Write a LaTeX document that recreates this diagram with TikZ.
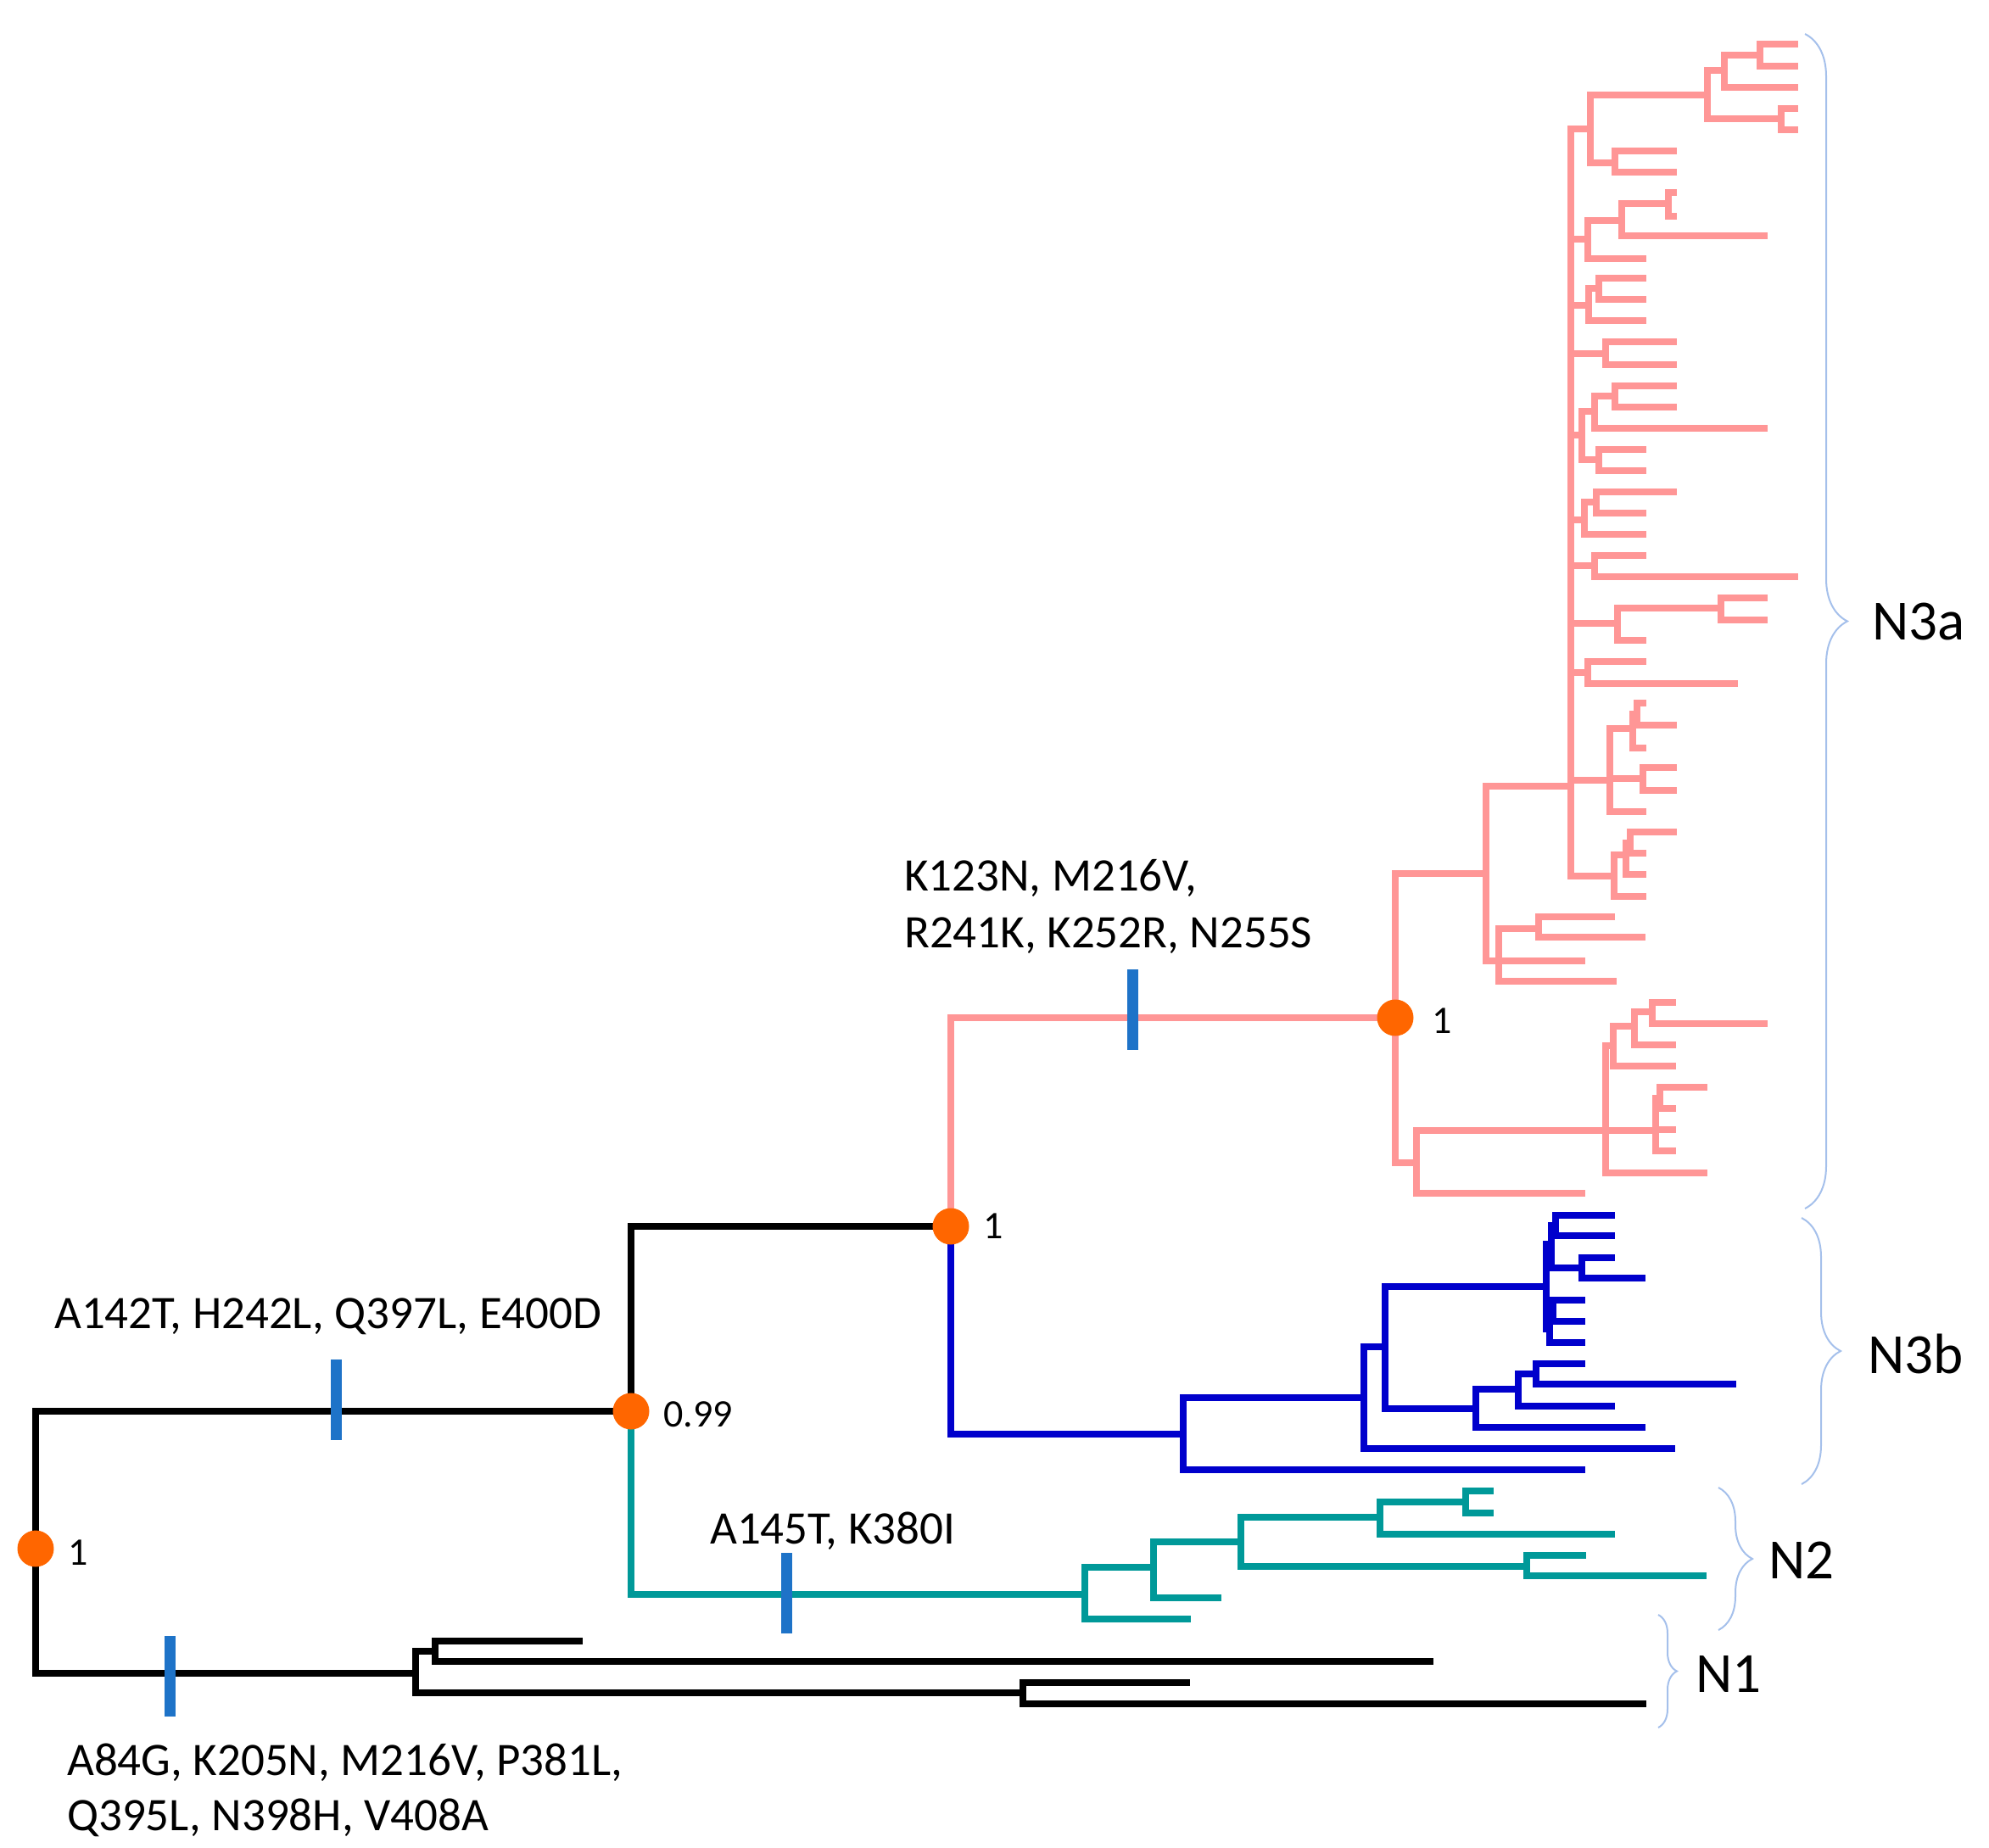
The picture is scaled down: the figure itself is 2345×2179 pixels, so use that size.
\documentclass[tikz,border=0pt]{standalone}
\usepackage{fontspec}
\setmainfont{Carlito}
\usetikzlibrary{decorations.pathreplacing}
\definecolor{pinkc}{RGB}{255,150,150}
\definecolor{bluec}{RGB}{0,0,204}
\definecolor{tealc}{RGB}{0,153,153}
\definecolor{barc}{RGB}{30,115,200}
\definecolor{dotc}{RGB}{255,102,0}
\definecolor{bracec}{RGB}{165,192,235}
\newcount\leafno
\newcommand\ed[4]{\draw (#1) |- (#3,#4) coordinate (#2);}
\newcommand\lf[3]{\global\advance\leafno by 1 \draw (#1) |- (#2,#3) coordinate (leaf\the\leafno);}
\begin{document}
\begin{tikzpicture}[x=1pt,y=-1pt,
  treeline/.style={line width=7.2pt,line cap=rect,line join=miter},
  dot/.style={circle,fill=dotc,minimum size=43pt,inner sep=0pt},
  mbar/.style={rectangle,fill=barc,minimum width=13pt,minimum height=95pt,inner sep=0pt},
  mut/.style={anchor=base west,inner sep=0pt,font=\fontsize{55}{66}\selectfont},
  sup/.style={anchor=base west,inner sep=0pt,font=\fontsize{46}{54}\selectfont},
  clade/.style={anchor=west,inner sep=0pt,font=\fontsize{67}{78}\selectfont},
  clbrace/.style={decorate,decoration={brace,amplitude=#1},draw=bracec,line width=2pt}]
\useasboundingbox (0,0) rectangle (2345,2179);
\coordinate (r) at (42,1826);
% ---- black backbone
\begin{scope}[treeline,black]
\ed{r}{n99}{744}{1664}
\ed{r}{nA}{490}{1973}
\ed{n99}{n3}{1121}{1446}
% N1
\ed{nA}{nB}{513}{1947}
\ed{nA}{nC}{1206}{1996}
\lf{nB}{683}{1935}
\lf{nB}{1686}{1959}
\lf{nC}{1399}{1984}
\lf{nC}{1937}{2009}
\end{scope}
% ---- N2 teal
\begin{scope}[treeline,tealc]
\ed{n99}{n2}{1279}{1880}
\ed{n2}{n2a}{1360}{1848}
\lf{n2}{1400}{1909}
\ed{n2a}{n2b}{1463}{1818}
\lf{n2a}{1436}{1884}
\ed{n2b}{n2c}{1627}{1789}
\ed{n2b}{n2d}{1800}{1847}
\ed{n2c}{n2e}{1728}{1771}
\lf{n2c}{1900}{1809}
\lf{n2e}{1757}{1758}
\lf{n2e}{1757}{1784}
\lf{n2d}{1866}{1834}
\lf{n2d}{2008}{1858}
\end{scope}
% ---- N3b blue
\begin{scope}[treeline,bluec]
\ed{n3}{n3b}{1395}{1691}
\ed{n3b}{b1}{1608}{1648}
\lf{n3b}{1865}{1733}
\ed{b1}{b2}{1633}{1588}
\lf{b1}{1971}{1708}
\ed{b2}{b3}{1823}{1517}
\ed{b2}{b4}{1740}{1661}
\ed{b3}{b5}{1829}{1467}
\ed{b3}{b8}{1827}{1567}
\ed{b5}{b6}{1834}{1445}
\ed{b5}{b7}{1865}{1495}
\lf{b6}{1900}{1433}
\lf{b6}{1900}{1457}
\lf{b7}{1900}{1483}
\lf{b7}{1936}{1507}
\ed{b8}{b9}{1831}{1545}
\lf{b8}{1865}{1583}
\lf{b9}{1865}{1533}
\lf{b9}{1865}{1558}
\ed{b4}{b10}{1790}{1638}
\lf{b4}{1936}{1683}
\ed{b10}{b11}{1811}{1620}
\lf{b10}{1900}{1658}
\lf{b11}{1865}{1608}
\lf{b11}{2043}{1632}
\end{scope}
% ---- N3a pink
\begin{scope}[treeline,pinkc]
\ed{n3}{n3a}{1645}{1200}
\ed{n3a}{U}{1752}{1030}
\ed{n3a}{P}{1670}{1371}
\ed{U}{W}{1852}{927}
\ed{U}{V}{1767}{1133}
\ed{V}{V1}{1814}{1095}
\lf{V}{1865}{1133}
\lf{V}{1902}{1157}
\lf{V1}{1900}{1081}
\lf{V1}{1936}{1105}
% spine
\ed{W}{A1}{1875}{152}
\ed{W}{w2}{1872}{282}
\ed{W}{w3}{1873}{360}
\ed{W}{w4}{1893}{417}
\ed{W}{w5}{1865}{513}
\ed{W}{w6}{1868}{613}
\ed{W}{w7}{1880}{667}
\ed{W}{w8}{1907}{735}
\ed{W}{w9}{1872}{793}
\ed{W}{w10}{1898}{920}
\ed{W}{w11}{1903}{1033}
% A1
\ed{A1}{T}{2013}{112}
\ed{A1}{a2}{1904}{192}
\ed{T}{T1}{2033}{83}
\ed{T}{T2}{2100}{140}
\ed{T1}{T3}{2075}{65}
\lf{T1}{2116}{103}
\lf{T3}{2116}{52}
\lf{T3}{2116}{78}
\lf{T2}{2116}{128}
\lf{T2}{2116}{153}
\lf{a2}{1973}{178}
\lf{a2}{1973}{203}
% w2
\ed{w2}{w2a}{1912}{260}
\lf{w2}{1937}{305}
\ed{w2a}{w2b}{1967}{240}
\lf{w2a}{2080}{278}
\lf{w2b}{1973}{227}
\lf{w2b}{1973}{255}
% w3
\ed{w3}{w3a}{1885}{340}
\lf{w3}{1937}{378}
\lf{w3a}{1937}{328}
\lf{w3a}{1937}{353}
% w4
\lf{w4}{1973}{403}
\lf{w4}{1973}{430}
% w5
\ed{w5}{w5a}{1880}{485}
\ed{w5}{w5b}{1885}{542}
\ed{w5a}{w5c}{1904}{467}
\lf{w5a}{2080}{505}
\lf{w5c}{1973}{455}
\lf{w5c}{1973}{480}
\lf{w5b}{1937}{530}
\lf{w5b}{1937}{555}
% w6
\ed{w6}{w6a}{1882}{592}
\lf{w6}{1937}{630}
\lf{w6a}{1973}{580}
\lf{w6a}{1937}{605}
% w7
\lf{w7}{1937}{655}
\lf{w7}{2116}{680}
% w8
\ed{w8}{w8a}{2029}{717}
\lf{w8}{1937}{755}
\lf{w8a}{2080}{705}
\lf{w8a}{2080}{731}
% w9
\lf{w9}{1937}{780}
\lf{w9}{2045}{806}
% w10
\ed{w10}{w10a}{1925}{859}
\ed{w10}{w10b}{1937}{918}
\lf{w10}{1937}{957}
\ed{w10a}{w10c}{1930}{842}
\lf{w10a}{1937}{882}
\lf{w10c}{1937}{829}
\lf{w10c}{1973}{855}
\lf{w10b}{1973}{905}
\lf{w10b}{1973}{932}
% w11
\ed{w11}{w11a}{1917}{1008}
\lf{w11}{1937}{1057}
\ed{w11a}{w11b}{1922}{994}
\lf{w11a}{1937}{1031}
\lf{w11b}{1973}{981}
\lf{w11b}{1937}{1006}
% P
\ed{P}{Q}{1893}{1333}
\lf{P}{1865}{1407}
\ed{Q}{Q1}{1902}{1233}
\ed{Q}{Q2}{1952}{1333}
\lf{Q}{2009}{1383}
\ed{Q1}{Q1a}{1927}{1210}
\lf{Q1}{1972}{1257}
\ed{Q1a}{Q1b}{1948}{1193}
\lf{Q1a}{1972}{1232}
\lf{Q1b}{1972}{1182}
\lf{Q1b}{2080}{1207}
\ed{Q2}{Q2a}{1957}{1295}
\lf{Q2}{1972}{1332}
\lf{Q2}{1972}{1357}
\lf{Q2a}{2009}{1282}
\lf{Q2a}{1972}{1307}
\end{scope}
% ---- mutation bars
\node[mbar] (bar1) at (396,1650) {};
\node[mbar] (bar2) at (200,1976) {};
\node[mbar] (bar3) at (927,1878) {};
\node[mbar] (bar4) at (1335,1190) {};
% ---- support dots
\node[dot] (d0) at (r) {};
\node[dot] (d1) at (n99) {};
\node[dot] (d2) at (n3) {};
\node[dot] (d3) at (n3a) {};
\node[sup] (s0) at (80,1845) {1};
\node[sup] (s1) at (782,1682) {0.99};
\node[sup] (s2) at (1159,1460) {1};
\node[sup] (s3) at (1688,1218) {1};
% ---- mutation labels
\node[mut] (m1a) at (1066,1050) {K123N, M216V,};
\node[mut] (m1b) at (1066,1117) {R241K, K252R, N255S};
\node[mut] (m2) at (64,1566) {A142T, H242L, Q397L, E400D};
\node[mut] (m3) at (837,1820) {A145T, K380I};
\node[mut] (m4a) at (79,2093) {A84G, K205N, M216V, P381L,};
\node[mut] (m4b) at (79,2158) {Q395L, N398H, V408A};
% ---- braces and clade labels
\coordinate (bA1) at (2128,40);
\coordinate (bA2) at (2128,1425);
\coordinate (bB1) at (2124,1436);
\coordinate (bB2) at (2124,1750);
\coordinate (bC1) at (2026,1754);
\coordinate (bC2) at (2026,1922);
\coordinate (bD1) at (1955,1904);
\coordinate (bD2) at (1955,2037);
\draw[clbrace=50pt] (bA1) -- (bA2);
\draw[clbrace=46pt] (bB1) -- (bB2);
\draw[clbrace=40pt] (bC1) -- (bC2);
\draw[clbrace=22pt] (bD1) -- (bD2);
\node[clade] (N3a) at (2207,733) {N3a};
\node[clade] (N3b) at (2202,1596) {N3b};
\node[clade] (N2) at (2085,1840) {N2};
\node[clade] (N1) at (1999,1974) {N1};
\end{tikzpicture}
\end{document}
